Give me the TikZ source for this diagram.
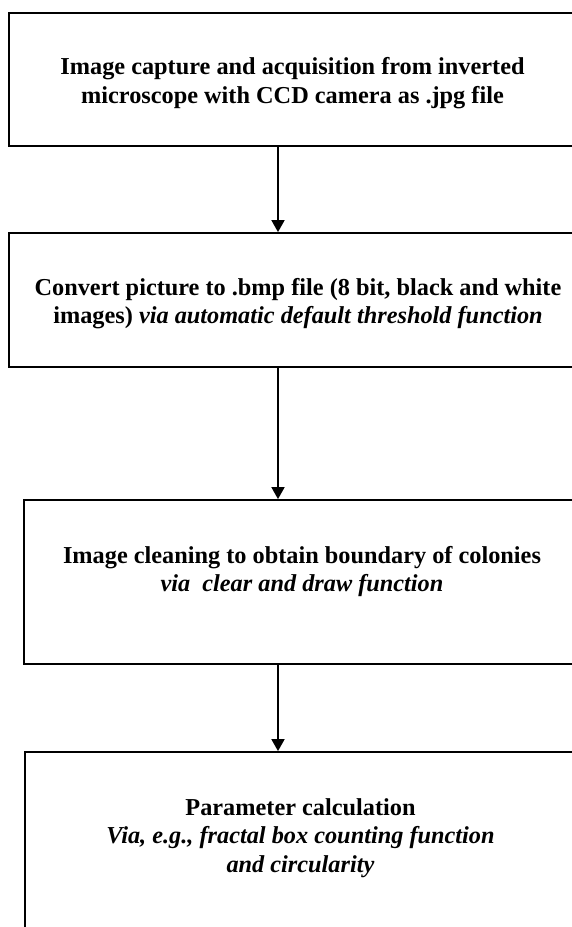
\documentclass[tikz,border=0pt]{standalone}
\usepackage{fontspec}
\setmainfont{Liberation Serif}
\usetikzlibrary{arrows.meta}
\tikzstyle{block} = [ rectangle, draw, align=center, inner sep=0pt, line width=0.9pt, font=\fontsize{12.15}{14.3}\selectfont\bfseries ]
\tikzstyle{line} = [ draw, line width=0.9pt, -{Triangle[width=6.5pt, length=6pt]} ]

\begin{document}
\begin{tikzpicture}[x=0.5pt, y=-0.5pt]
\useasboundingbox (0,0) rectangle (572,927);
\clip (0,0) rectangle (572,927);

% Processing steps
\node [block, minimum width=283.5pt, minimum height=66.5pt] (capture) at (292.5,79.5) {\rule{0pt}{12.2pt}Image capture and acquisition from inverted\\microscope with CCD camera as .jpg file};
\node [block, below of=capture, node distance=110.25pt, xshift=2.75pt, minimum width=289pt, minimum height=67pt] (convert) {\rule{0pt}{12.2pt}Convert picture to .bmp file (8 bit, black and white\\images) \textit{via automatic default threshold function}};
\node [block, below of=convert, node distance=141pt, xshift=2pt, minimum width=278pt, minimum height=82pt] (cleaning) {Image cleaning to obtain boundary of colonies\\\textit{via\ \ clear and draw function}\rule[-13.2pt]{0pt}{0pt}};
\node [block, below of=cleaning, node distance=137pt, xshift=-0.75pt, minimum width=275.5pt, minimum height=104pt] (parameter) {Parameter calculation\\\textit{Via, e.g., fractal box counting function}\\\textit{and circularity}\rule[-20.5pt]{0pt}{0pt}};
\coordinate (axis) at (278,0);
\path [line] (capture.south -| axis) -- (convert.north -| axis);
\path [line] (convert.south -| axis) -- (cleaning.north -| axis);
\path [line] (cleaning.south -| axis) -- (parameter.north -| axis);
\end{tikzpicture}
\end{document}
